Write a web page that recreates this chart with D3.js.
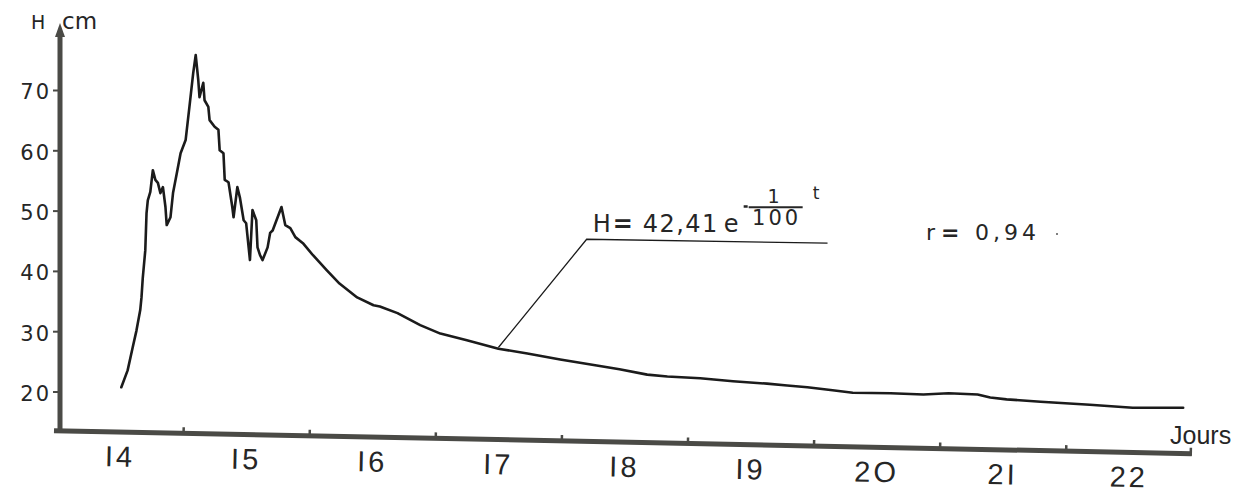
<!DOCTYPE html>
<html>
<head>
<meta charset="utf-8">
<script src="https://cdn.jsdelivr.net/npm/d3@7"></script>
<style>
  html, body { margin: 0; padding: 0; background: #ffffff; }
  svg { display: block; }
</style>
</head>
<body>
<svg id="chart" width="1245" height="495"></svg>
<script>
// ---- data ----
const days = [
  14.51, 14.56, 14.60, 14.63, 14.66, 14.67, 14.68, 14.70, 14.71, 14.72,
  14.74, 14.76, 14.78, 14.80, 14.82, 14.84, 14.86, 14.87, 14.90, 14.92,
  14.95, 14.98, 15.02, 15.05, 15.08, 15.10, 15.12, 15.13, 15.16, 15.17,
  15.20, 15.21, 15.25, 15.28, 15.29, 15.32, 15.33, 15.36, 15.39, 15.40,
  15.43, 15.45, 15.48, 15.50, 15.53, 15.55, 15.58, 15.59, 15.61, 15.63,
  15.67, 15.69, 15.71, 15.78, 15.81, 15.85, 15.89, 15.95, 16.03, 16.14,
  16.24, 16.38, 16.51, 16.56, 16.70, 16.88, 17.04, 17.25, 17.50, 17.73,
  17.99, 18.28, 18.46, 18.68, 18.84, 19.10, 19.36, 19.63, 19.79, 19.95,
  20.15, 20.31, 20.61, 20.87, 21.07, 21.30, 21.40, 21.53, 21.80, 22.19,
  22.53, 22.93
];
const heights = [
  20.7, 23.5, 27.3, 30.1, 33.5, 35.6, 38.8, 43.4, 49.6, 51.7,
  53.1, 56.7, 55.1, 54.6, 52.9, 53.9, 50.6, 47.6, 48.9, 52.9,
  56.2, 59.5, 61.7, 67.2, 72.8, 75.8, 71.7, 68.8, 71.2, 68.3,
  67.2, 65.0, 63.9, 63.4, 60.0, 59.5, 55.1, 54.7, 50.6, 48.9,
  53.9, 52.2, 48.4, 47.9, 41.8, 50.1, 48.4, 43.9, 42.6, 41.8,
  43.9, 46.3, 46.7, 50.6, 47.6, 47.1, 45.6, 44.6, 42.6, 40.1,
  37.9, 35.6, 34.3, 34.1, 33.0, 31.0, 29.6, 28.5, 27.1, 26.3,
  25.3, 24.3, 23.7, 22.8, 22.5, 22.2, 21.7, 21.3, 21.0, 20.7,
  20.2, 19.8, 19.7, 19.5, 19.7, 19.5, 19.0, 18.7, 18.3, 17.8,
  17.3, 17.3
];
const yTicks = [20, 30, 40, 50, 60, 70];
const dayLabels = ["I4", "I5", "I6", "I7", "I8", "I9", "2O", "2I", "22"];
const dayStarts = [14, 15, 16, 17, 18, 19, 20, 21, 22];
const dayBoundaries = [15, 16, 17, 18, 19, 20, 21, 22];
const leaderDays = [17.50, 18.20, 20.11];
const leaderHeights = [27.3, 45.25, 44.6];
const yTitle = "H cm";
const xTitle = "Jours";
const eqLeft = "H";
const eqCoef = "42,41";
const eqBase = "e";
const eqNum = "1";
const eqDen = "100";
const eqVar = "t";
const corrName = "r";
const corrValue = "0,94";

// ---- scales ----
const svg = d3.select("#chart");
const x = d3.scaleLinear().domain([14, 23]).range([57, 1192]);
const y = d3.scaleLinear().domain([20, 70]).range([391.5, 90]);
const axisColor = "#4a4a46";
const inkColor = "#1b1b1b";
const textColor = "#262626";
const x0 = x(14), yBase = y(13.5);
const sans = "DejaVu Sans, sans-serif";

function txt(px, py, s, size, opts = {}) {
  const t = svg.append("text").attr("x", px).attr("y", py)
    .style("font-family", opts.family || sans)
    .style("font-size", size + "px")
    .style("font-weight", opts.weight || "normal")
    .style("letter-spacing", (opts.ls || 0) + "px")
    .attr("fill", textColor)
    .attr("text-anchor", opts.anchor || "start")
    .text(s);
  return t;
}

// ---- y axis ----
const yAxisG = svg.append("g").attr("transform", `translate(60,0)`);
yAxisG.call(d3.axisLeft(y).tickValues(yTicks).tickSize(7).tickPadding(2))
  .call(g => g.select(".domain").remove());
yAxisG.selectAll(".tick line").attr("stroke", axisColor).attr("stroke-width", 2);
yAxisG.selectAll(".tick text")
  .style("font-family", sans)
  .style("font-size", "21px")
  .style("letter-spacing", "2px")
  .attr("fill", textColor)
  .attr("dy", "0.42em");
yAxisG.append("line")
  .attr("x1", 0).attr("x2", 0).attr("y1", yBase + 2).attr("y2", 34)
  .attr("stroke", axisColor).attr("stroke-width", 5);
yAxisG.append("path")
  .attr("d", "M0,23 L-5,37 L5,37 Z")
  .attr("fill", axisColor);

const yT = yTitle.split(" ");
txt(31, 29, yT[0], 19);
txt(62, 29, yT[1], 23);

// ---- x axis (slightly tilted like the scan) ----
const xAxisG = svg.append("g")
  .attr("transform", `rotate(1.16, ${x0}, ${yBase}) translate(0, ${yBase})`);
xAxisG.append("line")
  .attr("x1", x0 - 3).attr("x2", x(23)).attr("y1", 0).attr("y2", 0)
  .attr("stroke", axisColor).attr("stroke-width", 5);
xAxisG.append("path")
  .attr("d", `M${x(23) - 1},2 L${x(23) - 1},-6`)
  .attr("stroke", axisColor).attr("stroke-width", 2.5).attr("fill", "none");
const tickG = xAxisG.append("g")
  .call(d3.axisBottom(x).tickValues(dayBoundaries).tickSizeInner(-6).tickSizeOuter(0).tickFormat(""))
  .call(g => g.select(".domain").remove());
tickG.selectAll(".tick line").attr("stroke", axisColor).attr("stroke-width", 2.5);

const labelG = xAxisG.append("g")
  .call(d3.axisBottom(x).tickValues(dayStarts.map(d => d + 0.5)).tickSize(0).tickPadding(14)
    .tickFormat((d, i) => dayLabels[i]))
  .call(g => g.select(".domain").remove());
labelG.selectAll(".tick text")
  .style("font-family", "Liberation Sans, Arial, sans-serif")
  .style("font-size", "29px")
  .style("letter-spacing", "3px")
  .attr("fill", textColor);

txt(1170, 444, xTitle, 25, { family: "Liberation Sans, Arial, sans-serif" });

// ---- data curve ----
const pts = days.map((d, i) => [d, heights[i]]);
const line = d3.line().x(d => x(d[0])).y(d => y(d[1]));
svg.append("path")
  .attr("d", line(pts))
  .attr("fill", "none")
  .attr("stroke", inkColor)
  .attr("stroke-width", 2.6)
  .attr("stroke-linejoin", "round")
  .attr("stroke-linecap", "round");

// ---- annotation ----
const leader = leaderDays.map((d, i) => [d, leaderHeights[i]]);
svg.append("path")
  .attr("d", line(leader))
  .attr("fill", "none").attr("stroke", inkColor).attr("stroke-width", 1.3);

const ax = x(leaderDays[1]) + 6;  // ≈ 592
const ay = y(leaderHeights[1]) - 7; // baseline ≈ 232
txt(ax, ay, eqLeft, 24);
txt(ax + 20, ay, "=", 24, { weight: "bold" });
txt(ax + 50, ay, eqCoef, 24, { ls: 1.5 });
txt(ax + 131, ay, eqBase, 24);
svg.append("rect").attr("x", ax + 151).attr("y", ay - 27).attr("width", 4).attr("height", 2.5)
  .attr("fill", textColor);
svg.append("line").attr("x1", ax + 156).attr("x2", ax + 210)
  .attr("y1", ay - 25).attr("y2", ay - 25)
  .attr("stroke", textColor).attr("stroke-width", 2);
txt(ax + 181, ay - 29, eqNum, 19, { anchor: "middle" });
txt(ax + 184, ay - 7, eqDen, 21, { anchor: "middle", ls: 3 });
txt(ax + 220, ay - 33, eqVar, 17);

txt(926, 240, corrName, 22);
txt(941, 240, "=", 22, { weight: "bold" });
txt(975, 240, corrValue, 22, { ls: 4 });
svg.append("circle").attr("cx", 1057).attr("cy", 234).attr("r", 1).attr("fill", "#555");
</script>
</body>
</html>
